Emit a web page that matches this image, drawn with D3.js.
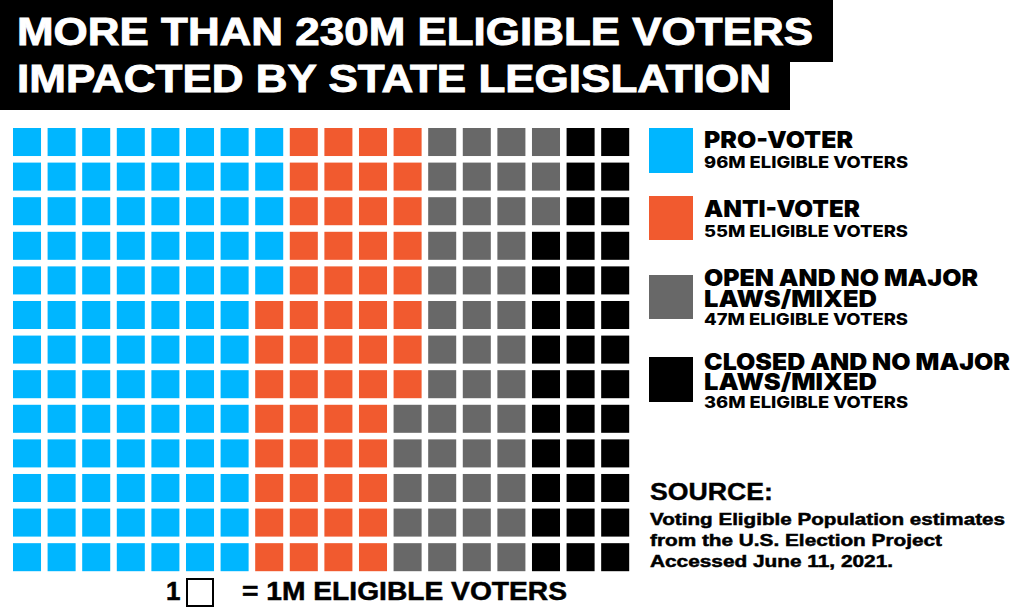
<!DOCTYPE html>
<html>
<head>
<meta charset="utf-8">
<script src="https://cdn.jsdelivr.net/npm/d3@7"></script>
<style>
  html, body { margin: 0; padding: 0; background: #fff; }
  svg { display: block; }
</style>
</head>
<body>
<svg id="chart" width="1024" height="613"></svg>
<script>
// ---- data ----
const categories = ["PRO-VOTER", "ANTI-VOTER", "OPEN AND NO MAJOR LAWS/MIXED", "CLOSED AND NO MAJOR LAWS/MIXED"];
const headingLines = [["PRO-VOTER"], ["ANTI-VOTER"], ["OPEN AND NO MAJOR", "LAWS/MIXED"], ["CLOSED AND NO MAJOR", "LAWS/MIXED"]];
const values = [96, 55, 47, 36];           // millions of eligible voters
const colors = ["#00b6ff", "#f15a2f", "#686868", "#000000"];
const titleLines = ["MORE THAN 230M ELIGIBLE VOTERS", "IMPACTED BY STATE LEGISLATION"];
const sourceLines = ["Voting Eligible Population estimates", "from the U.S. Election Project", "Accessed June 11, 2021."];
const nCols = 18, nRows = 13;

const svg = d3.select("#chart");
const FONT = "'Liberation Sans', Arial, Helvetica, sans-serif";

// ---- title blocks ----
svg.append("rect").attr("x", 0).attr("y", 0).attr("width", 833).attr("height", 62).attr("fill", "#000");
svg.append("rect").attr("x", 0).attr("y", 60).attr("width", 790).attr("height", 50).attr("fill", "#000");
const titleBase = [45, 92], titleW = [796, 754];
titleLines.forEach((t, i) => {
  svg.append("text").attr("x", 17).attr("y", titleBase[i])
    .attr("font-family", FONT).attr("font-weight", 700).attr("font-size", 38)
    .attr("fill", "#fff").attr("stroke", "#fff").attr("stroke-width", 0.9)
    .attr("textLength", titleW[i]).attr("lengthAdjust", "spacingAndGlyphs")
    .text(t);
});

// ---- waffle cells ----
const cells = [];
values.forEach((v, ci) => { for (let k = 0; k < v; k++) cells.push(ci); });
const x = d3.scaleBand().domain(d3.range(nCols)).range([13, 629.2]).paddingInner(0.19).paddingOuter(0);
const y = d3.scaleBand().domain(d3.range(nRows)).range([128, 571.2]).paddingInner(0.19).paddingOuter(0);
svg.append("g").selectAll("rect").data(cells).join("rect")
  .attr("x", (d, i) => x(Math.floor(i / nRows)))
  .attr("y", (d, i) => y(i % nRows))
  .attr("width", x.bandwidth())
  .attr("height", y.bandwidth())
  .attr("fill", d => colors[d]);

// ---- legend ----
const swY = [128, 196, 275, 357], swH = [45, 44, 44, 45];
const headBase = [[148], [217], [286, 307], [370, 390]];
const headW = [[149], [156], [274, 173], [306, 173]];
const subBase = [168, 237, 325, 408];
const lg = svg.append("g");
categories.forEach((c, i) => {
  lg.append("rect").attr("x", 649).attr("y", swY[i]).attr("width", 44).attr("height", swH[i]).attr("fill", colors[i]);
  const t = lg.append("text").attr("font-family", "Inter, 'Liberation Sans', sans-serif").attr("fill", "#000");
  headingLines[i].forEach((ln, j) => {
    t.append("tspan").attr("x", 704).attr("y", headBase[i][j])
      .attr("font-weight", 900).attr("font-size", 23)
      .attr("textLength", headW[i][j]).attr("lengthAdjust", "spacingAndGlyphs")
      .text(ln);
  });
  t.append("tspan").attr("x", 704).attr("y", subBase[i])
    .attr("font-weight", 800).attr("font-size", 16)
    .attr("textLength", 204).attr("lengthAdjust", "spacingAndGlyphs")
    .text(values[i] + "M ELIGIBLE VOTERS");
});

// ---- source ----
svg.append("text").attr("x", 650).attr("y", 500)
  .attr("font-family", FONT).attr("font-weight", 700).attr("font-size", 24)
  .attr("stroke", "#000").attr("stroke-width", 0.4)
  .attr("textLength", 123).attr("lengthAdjust", "spacingAndGlyphs").text("SOURCE:");
const srcBase = [525, 546, 567], srcW = [355, 292, 243];
sourceLines.forEach((s, i) => {
  svg.append("text").attr("x", 650).attr("y", srcBase[i])
    .attr("font-family", FONT).attr("font-weight", 700).attr("font-size", 17)
    .attr("stroke", "#000").attr("stroke-width", 0.5)
    .attr("textLength", srcW[i]).attr("lengthAdjust", "spacingAndGlyphs").text(s);
});

// ---- unit key ----
svg.append("text").attr("x", 166).attr("y", 600)
  .attr("font-family", FONT).attr("font-weight", 700).attr("font-size", 26)
  .attr("stroke", "#000").attr("stroke-width", 0.5).text("1");
svg.append("rect").attr("x", 187).attr("y", 579).attr("width", 26).attr("height", 27)
  .attr("fill", "none").attr("stroke", "#000").attr("stroke-width", 2);
svg.append("text").attr("x", 242).attr("y", 600)
  .attr("font-family", FONT).attr("font-weight", 700).attr("font-size", 26)
  .attr("stroke", "#000").attr("stroke-width", 0.5)
  .attr("textLength", 325).attr("lengthAdjust", "spacingAndGlyphs").text("= 1M ELIGIBLE VOTERS");
</script>
</body>
</html>
